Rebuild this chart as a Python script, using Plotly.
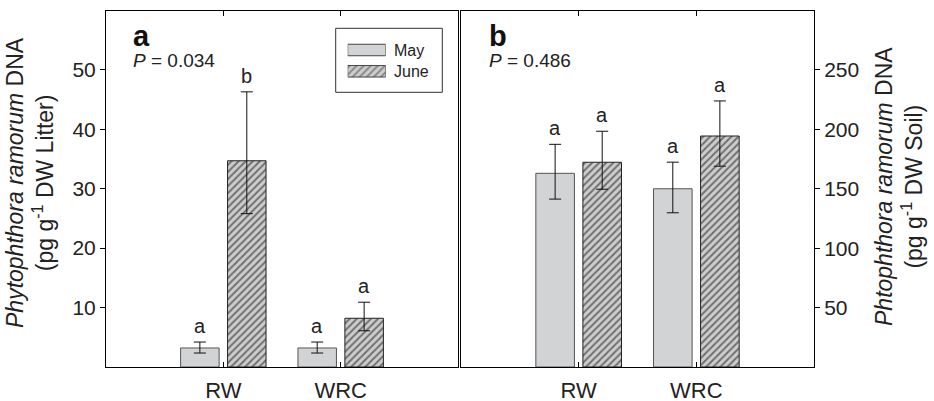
import plotly.graph_objects as go

# ---------------- data ----------------
categories = ["RW", "WRC"]
cat_pos = [0, 1]

litter_may = [3.2, 3.2]
litter_may_up = [1.0, 1.0]
litter_may_dn = [0.85, 0.85]
litter_june = [34.7, 8.2]
litter_june_up = [11.6, 2.7]
litter_june_dn = [8.9, 2.1]
litter_may_letters = ["a", "a"]
litter_june_letters = ["b", "a"]

soil_may = [163.0, 150.0]
soil_may_up = [24.4, 22.4]
soil_may_dn = [21.7, 20.2]
soil_june = [172.3, 194.4]
soil_june_up = [26.1, 29.5]
soil_june_dn = [22.7, 25.4]
soil_may_letters = ["a", "a"]
soil_june_letters = ["a", "a"]

litter_ticks = [10, 20, 30, 40, 50]
soil_ticks = [50, 100, 150, 200, 250]
p_left = "<i>P</i> = 0.034"
p_right = "<i>P</i> = 0.486"
series_names = ["May", "June"]

# ---------------- style ----------------
FONT = "Liberation Sans, Arial, Helvetica, sans-serif"
W, H = 934, 401
ML, MR, MT, MB = 106, 120, 11, 34
PW, PH = W - ML - MR, H - MT - MB
MAY_COLOR = "#d2d3d5"
JUNE_BG = "#cdcdcd"


def px_x(p):
    return (p - ML) / PW


def px_y(p):
    return 1 - (p - MT) / PH


may_marker = dict(color=MAY_COLOR, line=dict(color="#555555", width=1))
june_marker = dict(color=JUNE_BG,
                   pattern=dict(shape="/", fgcolor="#111111", bgcolor=JUNE_BG,
                                size=5, solidity=0.4, fillmode="overlay"),
                   line=dict(color="#222222", width=1))


def err(up, dn):
    return dict(type="data", array=up, arrayminus=dn, symmetric=False,
                color="#111111", thickness=1, width=6)


fig = go.Figure()
fig.add_trace(go.Bar(x=cat_pos, y=litter_may, name=series_names[0], marker=may_marker,
                     error_y=err(litter_may_up, litter_may_dn), xaxis="x", yaxis="y",
                     showlegend=False))
fig.add_trace(go.Bar(x=cat_pos, y=litter_june, name=series_names[1], marker=june_marker,
                     error_y=err(litter_june_up, litter_june_dn), xaxis="x", yaxis="y",
                     showlegend=False))
fig.add_trace(go.Bar(x=cat_pos, y=soil_may, name=series_names[0], marker=may_marker,
                     error_y=err(soil_may_up, soil_may_dn), xaxis="x2", yaxis="y2",
                     showlegend=False))
fig.add_trace(go.Bar(x=cat_pos, y=soil_june, name=series_names[1], marker=june_marker,
                     error_y=err(soil_june_up, soil_june_dn), xaxis="x2", yaxis="y2",
                     showlegend=False))

# legend swatches (drawn on a small hidden axis pair)
fig.add_trace(go.Bar(y=[1, 0], x=[1, 1], orientation="h", width=0.54,
                     marker=dict(color=[MAY_COLOR, JUNE_BG],
                                 pattern=dict(shape=["", "/"], fgcolor="#111111",
                                              bgcolor=JUNE_BG, size=5, solidity=0.4,
                                              fillmode="overlay"),
                                 line=dict(color="#444444", width=1)),
                     xaxis="x5", yaxis="y5", showlegend=False, hoverinfo="skip"))

tickfont = dict(family=FONT, size=21, color="#222222")
catfont = dict(family=FONT, size=22, color="#222222")

xcommon = dict(range=[-1, 2], tickvals=cat_pos, ticktext=categories, ticks="inside",
               ticklen=5, tickcolor="black", showline=True, linecolor="black",
               linewidth=1, mirror="ticks", showgrid=False, zeroline=False,
               tickfont=catfont, ticklabelstandoff=4, fixedrange=True,
               automargin=False)

ycommon = dict(showgrid=False, zeroline=False, ticklen=5, tickcolor="black",
               linecolor="black", linewidth=1, tickfont=tickfont, fixedrange=True,
               automargin=False)

left_dom = [0, px_x(458)]
right_dom = [px_x(461), 1]
yl_range = [0, 59.9]
yr_range = [0, 299.6]

fig.update_layout(
    width=W, height=H,
    margin=dict(l=ML, r=MR, t=MT, b=MB, autoexpand=False),
    paper_bgcolor="white", plot_bgcolor="white",
    barmode="group", bargap=0.2, bargroupgap=0.18,
    font=dict(family=FONT, color="#222222"),
    showlegend=False,
    xaxis=dict(domain=left_dom, anchor="y", **xcommon),
    xaxis2=dict(domain=right_dom, anchor="y2", **xcommon),
    yaxis=dict(domain=[0, 1], anchor="x", range=yl_range, tickvals=litter_ticks,
               ticks="outside", showline=True, mirror=True, side="left", **ycommon),
    yaxis3=dict(overlaying="y", anchor="x", side="right", range=yl_range,
                tickvals=litter_ticks, ticks="inside", showticklabels=False,
                showline=False, **ycommon),
    yaxis2=dict(domain=[0, 1], anchor="x2", range=yr_range, tickvals=soil_ticks,
                ticks="outside", showline=True, mirror=True, side="right", **ycommon),
    yaxis4=dict(overlaying="y2", anchor="x2", side="left", range=yr_range,
                tickvals=soil_ticks, ticks="inside", showticklabels=False,
                showline=False, **ycommon),
    xaxis5=dict(domain=[px_x(347.7), px_x(385.7)], range=[0, 1], visible=False,
                anchor="y5", fixedrange=True, automargin=False),
    yaxis5=dict(domain=[px_y(81.95), px_y(39.35)], range=[-0.5, 1.5], visible=False,
                anchor="x5", fixedrange=True, automargin=False),
)

# legend box and texts
fig.add_shape(type="rect", xref="paper", yref="paper",
              x0=px_x(335.7), x1=px_x(442.3), y0=px_y(92.3), y1=px_y(28.3),
              line=dict(color="#333333", width=1), fillcolor="rgba(0,0,0,0)", layer="above")
legend_rows_px = [50, 71.3]
for name, ypx in zip(series_names, legend_rows_px):
    fig.add_annotation(text=name, xref="paper", yref="paper", x=px_x(392), y=px_y(ypx),
                       xanchor="left", yanchor="middle", showarrow=False,
                       font=dict(family=FONT, size=16, color="#222222"))

# significance letters
offs = [-0.2, 0.2]
panels = [
    ("x", "y", [(litter_may, litter_may_up, litter_may_letters),
                (litter_june, litter_june_up, litter_june_letters)]),
    ("x2", "y2", [(soil_may, soil_may_up, soil_may_letters),
                  (soil_june, soil_june_up, soil_june_letters)]),
]
for xr, yr, series in panels:
    for off, (vals, ups, letters) in zip(offs, series):
        for c, v, u, l in zip(cat_pos, vals, ups, letters):
            fig.add_annotation(text=l, xref=xr, yref=yr, x=c + off, y=v + u,
                               xanchor="center", yanchor="bottom", yshift=3,
                               showarrow=False,
                               font=dict(family=FONT, size=20, color="#222222"))

# panel labels and P values
for lab, ptxt, xl in [("a", p_left, 130.5), ("b", p_right, 487)]:
    fig.add_annotation(text="<b>%s</b>" % lab, xref="paper", yref="paper",
                       x=px_x(xl), y=px_y(36), xanchor="left", yanchor="middle",
                       showarrow=False, font=dict(family=FONT, size=29, color="#111111"))
    fig.add_annotation(text=ptxt, xref="paper", yref="paper",
                       x=px_x(xl), y=px_y(60.5), xanchor="left", yanchor="middle",
                       showarrow=False, font=dict(family=FONT, size=19, color="#222222"))

# axis titles
fig.add_annotation(text="<i>Phytophthora ramorum</i> DNA<br>(pg g<sup>-1</sup> DW Litter)",
                   xref="paper", yref="paper", x=px_x(30), y=px_y(183),
                   xanchor="center", yanchor="middle", textangle=-90, showarrow=False,
                   font=dict(family=FONT, size=23, color="#222222"))
fig.add_annotation(text="<i>Phtophthora ramorum</i> DNA<br>(pg g<sup>-1</sup> DW Soil)",
                   xref="paper", yref="paper", x=px_x(899), y=px_y(187),
                   xanchor="center", yanchor="middle", textangle=-90, showarrow=False,
                   font=dict(family=FONT, size=23, color="#222222"))

fig.write_html("out.html", config={"displayModeBar": False},
               post_script="document.body.style.margin='0';document.body.style.overflow='hidden';")
